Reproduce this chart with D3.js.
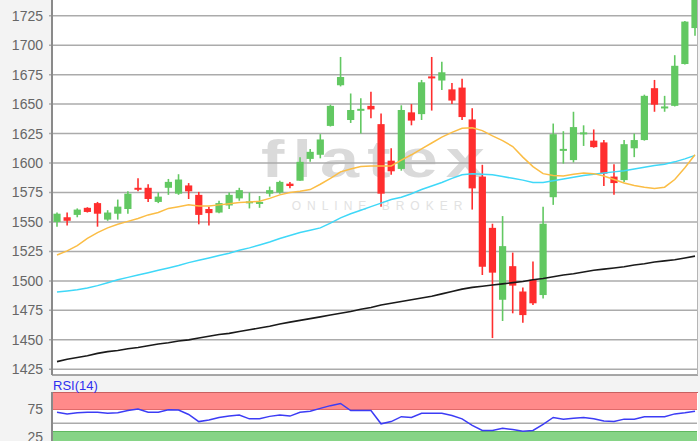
<!DOCTYPE html>
<html>
<head>
<meta charset="utf-8">
<script src="https://cdn.jsdelivr.net/npm/d3@7"></script>
<style>
  body { margin: 0; background: #f3f3f3; }
  svg { display: block; font-family: "Liberation Sans", Arial, sans-serif; }
</style>
</head>
<body>
<div id="chart"></div>
<script>
// daily candles, oldest first
var opens  = [1550,1554,1556,1562,1566,1552,1557,1561,1579,1579,1567,1579,1574,1581,1573,1561,1558,1564,1570,1567,1566,1574,1575,1582.5,1585,1603.5,1607,1631.5,1666,1636.5,1645,1648.5,1633,1602,1595,1643,1641.5,1673.5,1670,1662.5,1664,1637,1588.5,1545,1484,1512.5,1491,1501,1488,1571,1611,1602.5,1625.5,1619,1617.5,1588.5,1585.5,1612.5,1619.5,1663.5,1647.5,1648.5,1684,1714.5];
var highs  = [1558,1558,1561.5,1562.5,1567,1560,1569,1576,1587,1582,1575,1586.5,1590.5,1583,1575.5,1563,1568,1575,1579,1575,1572,1580,1585,1584,1605,1612,1624.5,1649.5,1690,1659,1655,1660.5,1642,1612.5,1649,1650,1670.5,1690,1686,1668,1671.5,1646.5,1598.5,1548.5,1555,1524,1494.5,1516.5,1563,1633.5,1627,1643.5,1632,1628.5,1619.5,1599,1619.5,1625,1658,1670.5,1657,1691.5,1720.5,1750];
var lows   = [1546,1547,1554,1558,1546,1551,1552,1557,1576,1567,1566,1573,1573,1569.5,1548,1547,1557.5,1561,1568,1561.5,1562,1571.5,1574,1578.5,1585,1601,1604,1631,1665,1634,1625,1638,1563,1590,1593.5,1632,1636.5,1644.5,1662,1650,1636.5,1560.5,1505,1451.5,1466,1472.5,1464.5,1479.5,1485,1564.5,1599.5,1600.5,1614.5,1613,1580.5,1573,1584,1605,1619,1643.5,1643.5,1648,1683.5,1708];
var closes = [1557,1551,1560.5,1558.5,1557,1558,1563,1574,1578,1569.5,1571.5,1584,1586,1576,1556,1557.5,1566,1573,1577,1567.5,1567,1577,1584,1580.5,1601,1609.5,1620,1648.5,1673,1645,1646,1645.5,1574,1593,1645,1636,1668.5,1672.5,1677,1653,1639,1578.5,1512,1507,1529.5,1496,1471,1481,1548.5,1624.5,1612,1630.5,1626,1613.5,1591,1583,1616,1619.5,1657,1649.5,1648,1682.5,1720,1742];

// moving averages as drawn
var maShort = [1522,1525.5,1530,1536,1541,1545,1548,1550.5,1553,1556,1558,1561.5,1563,1564.5,1563.5,1563.5,1564.5,1565.5,1566.5,1567,1567.5,1570,1573,1575,1576,1577.5,1582,1587,1592.5,1595,1597,1597.5,1597.5,1597.5,1602.5,1607,1612,1617,1622,1626,1629.5,1630,1627.5,1623,1619,1614,1605,1597,1591,1589.5,1589,1590.5,1591.5,1591,1589,1586,1583,1581,1579.5,1578.5,1579.5,1586,1596,1607];
var maMid   = [1490.5,1491.5,1492.5,1494,1496,1498.5,1501,1503,1505,1507,1509,1511,1513,1515.5,1517.5,1519.5,1521.5,1523.5,1526,1528,1530.5,1533,1536,1538.5,1541,1543,1545,1549,1553.5,1557,1560,1563,1566,1569,1571,1574,1577.5,1580.5,1583.5,1587,1590,1591,1590.5,1590,1588.5,1587,1585.5,1583.5,1583.5,1585,1586.5,1588,1589.5,1590.5,1591.5,1592.5,1593.5,1595,1596.5,1598,1599,1601,1603.5,1606.5];
var maLong  = [1431.5,1433.5,1435,1436.5,1438.5,1440,1441,1442.5,1443.5,1445,1446.5,1447.5,1449,1450,1451.5,1453,1454.5,1455.5,1457,1458.5,1460,1461.5,1463.5,1465,1466.5,1468,1469.5,1471,1472.5,1474,1476,1477.5,1479.5,1481,1482.5,1484,1485.5,1487,1489,1491,1493,1494.5,1495.5,1496.5,1497.5,1498.5,1499.5,1501,1502,1503.5,1505,1506,1507.5,1509,1510,1511,1512,1513.5,1514.5,1516,1517,1518,1519.5,1521];

var rsi = [70,67,69,70,70,68,69,73,76,70,70,74.5,74,66,53,56,60.5,63,65,58,58,62.5,65,63,70,72,77,82,86,73,73,73,49,53,62,60.5,68,68,68,64,58,46,37,37,41,38.5,35.5,37,48,60.5,57.5,59,60.5,58,54,53,57.5,57.5,62,62,62,67,69,72];

var priceTicks = [1425,1450,1475,1500,1525,1550,1575,1600,1625,1650,1675,1700,1725];
var rsiTicks = [25,75];
var rsiGrid = [50];
var rsiHigh = [75,110];
var rsiLow = [0,35];

var W = 700, H = 441;
var left = 52, right = 698, mainBottom = 375, rsiTop = 392;

var svg = d3.select('#chart').append('svg')
  .attr('width', W)
  .attr('height', H);

svg.append('rect').attr('width', W).attr('height', H).attr('fill', '#f3f3f3');
svg.append('rect').attr('x', left).attr('y', 0).attr('width', right-left).attr('height', mainBottom).attr('fill', '#fff');
svg.append('rect').attr('x', left).attr('y', rsiTop).attr('width', right-left).attr('height', H-rsiTop).attr('fill', '#fff');

var defs = svg.append('defs');
defs.append('clipPath').attr('id', 'clipMain')
  .append('rect').attr('x', left).attr('y', 0).attr('width', right-left-1).attr('height', mainBottom);
defs.append('clipPath').attr('id', 'clipRsi')
  .append('rect').attr('x', left).attr('y', rsiTop).attr('width', right-left-1).attr('height', H-rsiTop);

var x = d3.scaleLinear().domain([0, closes.length-1]).range([57, 695]);
var y = d3.scaleLinear().domain([1425, 1725]).range([369.3, 15.7]);
var yr = d3.scaleLinear().domain([25, 75]).range([437, 409.5]);

//watermark
var wm = svg.append('g').attr('clip-path', 'url(#clipMain)');
wm.append('text')
  .attr('transform', 'translate(377,177) scale(1.35,1)')
  .attr('text-anchor', 'middle')
  .attr('font-size', 52).attr('font-weight', 'bold')
  .attr('letter-spacing', 6)
  .attr('fill', '#dadada')
  .text('flatex');
wm.append('text')
  .attr('x', 380).attr('y', 210)
  .attr('text-anchor', 'middle')
  .attr('font-size', 12)
  .attr('letter-spacing', 6)
  .attr('fill', '#e2e2e2')
  .text('ONLINE BROKER');

//gridlines
svg.append('g').selectAll('line')
  .data(priceTicks)
  .enter().append('line')
    .attr('x1', left-3).attr('x2', right)
    .attr('y1', function(d) { return y(d); })
    .attr('y2', function(d) { return y(d); })
    .attr('stroke', '#ababab')
    .attr('stroke-width', 1.5);

//price axis labels
var yAxis = d3.axisLeft(y).tickValues(priceTicks).tickFormat(d3.format('d')).tickSize(0).tickPadding(9);
var ax = svg.append('g').attr('transform', 'translate(' + left + ',0)').call(yAxis);
ax.select('.domain').remove();
ax.selectAll('text').attr('font-size', 14).attr('fill', '#666').attr('font-family', '"Liberation Sans", Arial, sans-serif');

//candles
var cg = svg.append('g').attr('clip-path', 'url(#clipMain)');
var candles = cg.selectAll('.candle')
  .data(closes.map(function(c, i) { return {i: i, o: opens[i], h: highs[i], l: lows[i], c: c}; }))
  .enter().append('g').attr('class', 'candle');

function candleColor(d) { return d.c >= d.o ? '#62c862' : '#ff2e2e'; }

candles.append('line')
  .attr('x1', function(d) { return x(d.i); })
  .attr('x2', function(d) { return x(d.i); })
  .attr('y1', function(d) { return y(d.h); })
  .attr('y2', function(d) { return y(d.l); })
  .attr('stroke', candleColor)
  .attr('stroke-width', 1.6);

candles.append('rect')
  .attr('x', function(d) { return x(d.i) - 3.6; })
  .attr('width', 7.2)
  .attr('y', function(d) { return Math.min(y(d.o), y(d.c)); })
  .attr('height', function(d) { return Math.max(2, Math.abs(y(d.o) - y(d.c))); })
  .attr('fill', candleColor);

//moving averages
var line = d3.line()
  .x(function(d, i) { return x(i); })
  .y(function(d) { return y(d); });

cg.append('path').datum(maLong).attr('d', line)
  .attr('fill', 'none').attr('stroke', '#1a1a1a').attr('stroke-width', 1.6);
cg.append('path').datum(maMid).attr('d', line)
  .attr('fill', 'none').attr('stroke', '#3fd8f8').attr('stroke-width', 1.5);
cg.append('path').datum(maShort).attr('d', line)
  .attr('fill', 'none').attr('stroke', '#fbbd45').attr('stroke-width', 1.5);

//frame
svg.append('line').attr('x1', left).attr('x2', right).attr('y1', mainBottom).attr('y2', mainBottom)
  .attr('stroke', '#8a8a8a').attr('stroke-width', 1.5);
svg.append('line').attr('x1', right-0.5).attr('x2', right-0.5).attr('y1', 0).attr('y2', mainBottom)
  .attr('stroke', '#b5b5b5').attr('stroke-width', 1);

//RSI panel
var rg = svg.append('g').attr('clip-path', 'url(#clipRsi)');
rg.append('rect')
  .attr('x', left).attr('width', right-left)
  .attr('y', yr(rsiHigh[1])).attr('height', yr(rsiHigh[0]) - yr(rsiHigh[1]))
  .attr('fill', '#ff8a8a');
rg.append('line').attr('x1', left).attr('x2', right).attr('y1', yr(rsiHigh[0])).attr('y2', yr(rsiHigh[0]))
  .attr('stroke', '#e06a6a').attr('stroke-width', 1);
rg.append('rect')
  .attr('x', left).attr('width', right-left)
  .attr('y', yr(rsiLow[1])).attr('height', yr(rsiLow[0]) - yr(rsiLow[1]))
  .attr('fill', '#86d486');
rg.append('line').attr('x1', left).attr('x2', right).attr('y1', yr(rsiLow[1])).attr('y2', yr(rsiLow[1]))
  .attr('stroke', '#5fb85f').attr('stroke-width', 1);
rg.selectAll('.rsi-grid').data(rsiGrid).enter().append('line')
  .attr('x1', left).attr('x2', right)
  .attr('y1', function(d) { return yr(d); }).attr('y2', function(d) { return yr(d); })
  .attr('stroke', '#ababab').attr('stroke-width', 1.5);

var rsiLine = d3.line()
  .x(function(d, i) { return x(i); })
  .y(function(d) { return yr(d); });
rg.append('path').datum(rsi).attr('d', rsiLine)
  .attr('fill', 'none').attr('stroke', '#3c3cf5').attr('stroke-width', 1.5);

svg.append('line').attr('x1', left).attr('x2', right).attr('y1', rsiTop+0.5).attr('y2', rsiTop+0.5)
  .attr('stroke', '#c86060').attr('stroke-width', 1);

var rAxis = d3.axisLeft(yr).tickValues(rsiTicks).tickSize(0).tickPadding(9);
var rax = svg.append('g').attr('transform', 'translate(' + left + ',0)').call(rAxis);
rax.select('.domain').remove();
rax.selectAll('text').attr('font-size', 14).attr('fill', '#666').attr('font-family', '"Liberation Sans", Arial, sans-serif');

svg.append('text')
  .attr('x', 53).attr('y', 389.5)
  .attr('font-size', 13)
  .attr('fill', '#2f2ff0')
  .text('RSI(14)');

//left axis lines
svg.append('line').attr('x1', left).attr('x2', left).attr('y1', 0).attr('y2', mainBottom)
  .attr('stroke', '#8a8a8a').attr('stroke-width', 2);
svg.append('line').attr('x1', left).attr('x2', left).attr('y1', rsiTop).attr('y2', H)
  .attr('stroke', '#8a8a8a').attr('stroke-width', 2);
</script>
</body>
</html>
